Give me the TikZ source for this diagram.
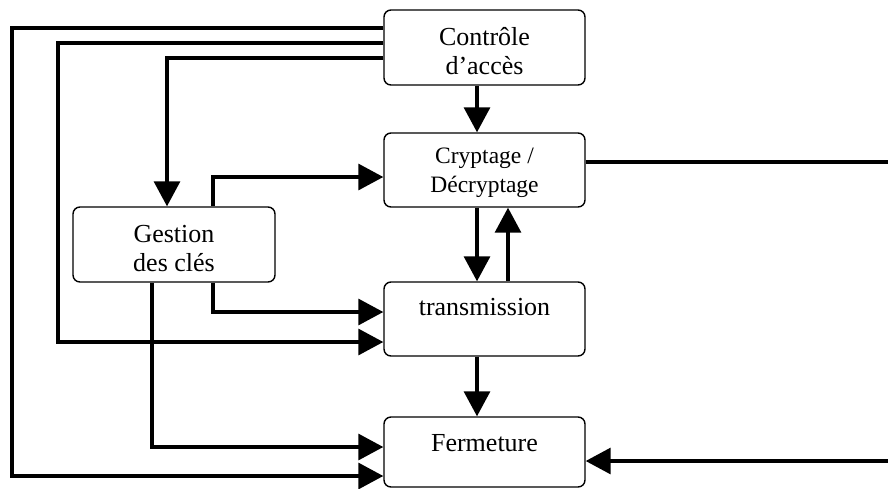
\documentclass[tikz,border=0pt]{standalone}
\usepackage{fontspec}
\setmainfont{Liberation Serif}
\usetikzlibrary{arrows.meta}
\begin{document}
\begin{tikzpicture}[x=1pt,y=-1pt,
  box/.style={draw,line width=1.4pt,rounded corners=7pt,inner sep=0pt,minimum width=201pt},
  lbl/.style={inner sep=0pt,anchor=base,font=\fontsize{26}{28}\selectfont},
  lbls/.style={inner sep=0pt,anchor=base,font=\fontsize{23.5}{28}\selectfont},
  con/.style={line width=3.2pt},
  arr/.style={con,-{Triangle[length=25pt,width=26pt]}}]
\useasboundingbox (0,0) rectangle (888,488);
% boxes
\node[box,minimum height=75pt] (ctl) at (484.5,47.5) {};
\node[box,minimum height=74pt] (cry) at (484.5,170) {};
\node[box,minimum height=74pt] (tra) at (484.5,319) {};
\node[box,minimum height=70pt] (fer) at (484.5,452) {};
\node[box,minimum width=202pt,minimum height=75pt] (ges) at (174,244.5) {};
% labels
\node[lbl] (ctl1) at (484.5,45) {Contrôle};
\node[lbl] (ctl2) at (484.5,74) {d’accès};
\node[lbls] (cry1) at (484.5,163) {Cryptage /};
\node[lbls] (cry2) at (484.5,192) {Décryptage};
\node[lbl] (ges1) at (174,242) {Gestion};
\node[lbl] (ges2) at (174,271) {des clés};
\node[lbl] (tra1) at (484.5,315) {transmission};
\node[lbl] (fer1) at (484.5,451) {Fermeture};
% helper coordinates
\coordinate (xa) at (12,0);
\coordinate (xb) at (58,0);
\coordinate (xc) at (167,0);
\coordinate (xd) at (213,0);
\coordinate (xe) at (152,0);
\coordinate (xm) at (477,0);
\coordinate (xu) at (508,0);
\coordinate (ya) at (0,28);
\coordinate (yb) at (0,43);
\coordinate (yc) at (0,58);
\coordinate (yd) at (0,177);
\coordinate (ye) at (0,312);
\coordinate (yf) at (0,342);
\coordinate (yg) at (0,447);
\coordinate (yh) at (0,476);
\coordinate (rtop) at (888,162);
\coordinate (rbot) at (888,461);
% connectors
\draw[arr] (ctl.west |- ya) -| (xa |- yh) -- (fer.west |- yh);
\draw[arr] (ctl.west |- yb) -| (xb |- yf) -- (tra.west |- yf);
\draw[arr] (ctl.west |- yc) -| (xc |- ges.north);
\draw[arr] (xd |- ges.north) |- (cry.west |- yd);
\draw[arr] (xd |- ges.south) |- (tra.west |- ye);
\draw[arr] (xe |- ges.south) |- (fer.west |- yg);
\draw[arr] (xm |- ctl.south) -- (xm |- cry.north);
\draw[arr] (xm |- cry.south) -- (xm |- tra.north);
\draw[arr] (xu |- tra.north) -- (xu |- cry.south);
\draw[arr] (xm |- tra.south) -- (xm |- fer.north);
\draw[con] (cry.east |- rtop) -- (rtop);
\draw[arr] (rbot) -- (fer.east |- rbot);
\end{tikzpicture}
\end{document}
